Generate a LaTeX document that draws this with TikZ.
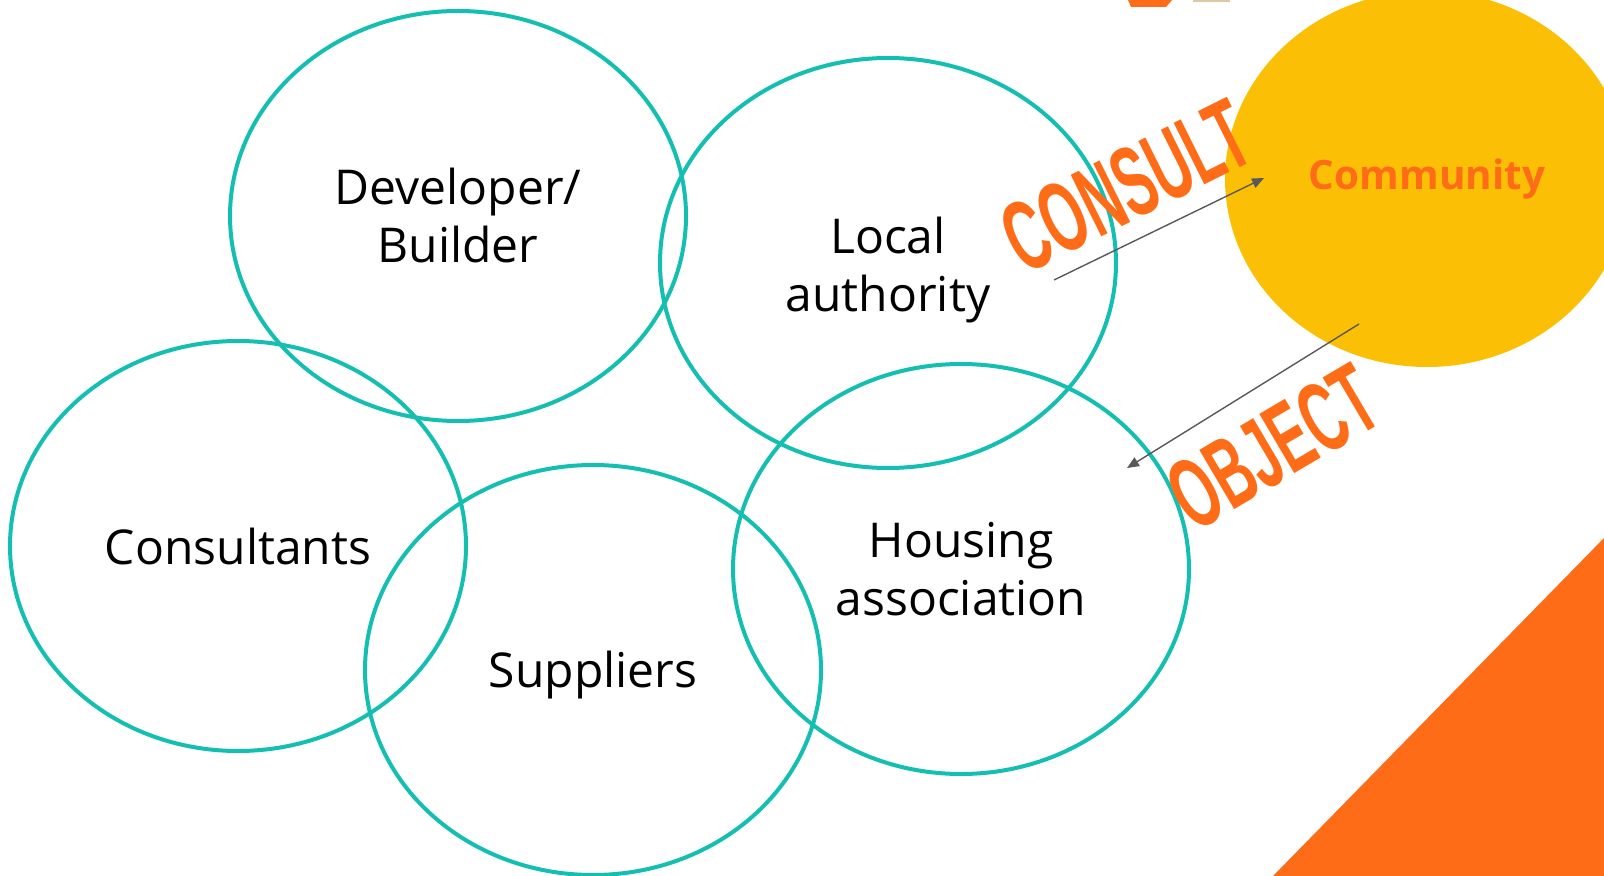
\documentclass[tikz,border=0pt]{standalone}
\usepackage{fontspec}
\setmainfont{Open Sans}
\newfontfamily\narrowfont[FakeStretch=0.55]{Liberation Sans Bold}
\usetikzlibrary{shapes.geometric,arrows.meta}
\definecolor{ringteal}{HTML}{14BFB2}
\definecolor{sunorange}{HTML}{FF6C17}
\definecolor{sunyellow}{HTML}{FBC006}
\definecolor{arrowgrey}{HTML}{595959}
\definecolor{sand}{HTML}{DCC9A6}

\begin{document}
\begin{tikzpicture}[x=0.5pt,y=-0.5pt,
  ring/.style={ellipse,draw=ringteal,line width=2pt,minimum width=228pt,minimum height=205pt,align=center,font=\fontsize{24}{29}\selectfont},
  shout/.style={text=sunorange,font=\narrowfont\fontsize{50}{50}\selectfont,inner sep=0pt},
  link/.style={-{Triangle[length=6pt,width=5pt]},arrowgrey,line width=0.7pt}]
      \useasboundingbox (0,0) rectangle (1604,876);
      \clip (0,0) rectangle (1604,876);

      \fill[sunorange] (1273,876) -- (1604,538) -- (1604,876) -- cycle;
      \fill[sunorange] (1128,0) -- (1172,0) -- (1166,7) -- (1131,7) -- cycle;
      \fill[sand] (1193,0) rectangle (1230,2);

      \node[ellipse,fill=sunyellow,minimum width=202pt,minimum height=188pt,text=sunorange,font=\bfseries\fontsize{20.2}{24}\selectfont] (comm) at (1427,179) {Community};

      \node[ring] (dev) at (458,216) {Developer/\\Builder};
      \node[ring,text height=54pt] (local) at (888,263) {Local\\authority};
      \node[ring] (cons) at (238,546) {Consultants};
      \node[ring,text height=23pt] (supp) at (593,670) {Suppliers};
      \node[ring] (house) at (961,569) {Housing\\association};

      \coordinate (consultfrom) at (1054,280);
      \coordinate (consultto) at (1264,178);
      \coordinate (objectfrom) at (1359,324);
      \coordinate (objectto) at (1127,468);
      \draw[link] (consultfrom) -- (consultto);
      \draw[link] (objectfrom) -- (objectto);

      \node[shout,rotate=26.5] (consult) at (1126,186) {CONSULT};
      \node[shout,rotate=30.5] (object) at (1273,447) {OBJECT};
    \end{tikzpicture}
\end{document}
